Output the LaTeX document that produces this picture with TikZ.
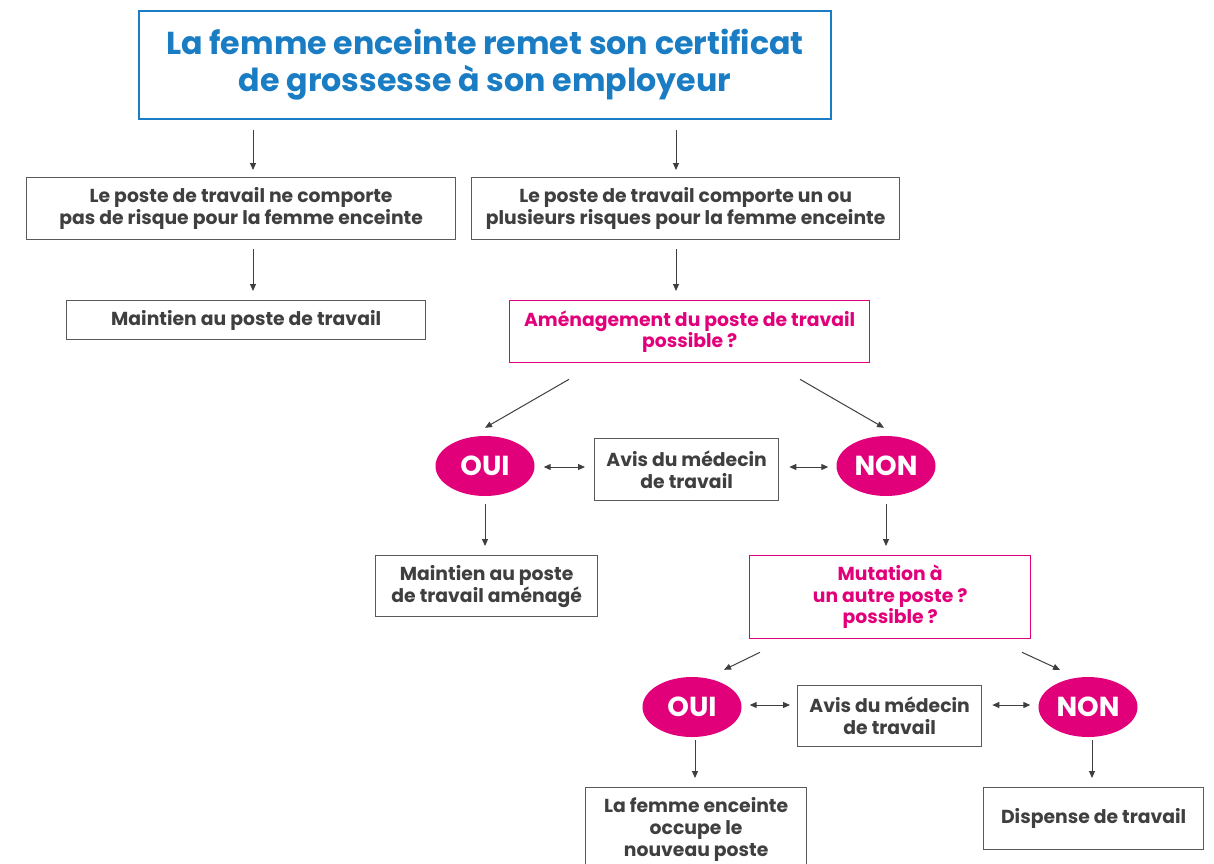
\documentclass[tikz,border=0pt]{standalone}
\usepackage{fontspec}
\setmainfont{Poppins}
\usetikzlibrary{arrows.meta,shapes.geometric,calc}
\definecolor{tblue}{HTML}{1A7DC4}
\definecolor{tpink}{HTML}{E2007A}
\definecolor{tgray}{HTML}{3F3F3F}
\definecolor{lgray}{HTML}{5A5A5A}
\begin{document}
\begin{tikzpicture}[x=1pt,y=-1pt,
  box/.style={draw=lgray,line width=1.3pt,text=tgray,font=\fontsize{18.8}{22}\selectfont\bfseries,align=center,inner sep=0pt,anchor=north west},
  qbox/.style={draw=tpink,line width=1.3pt,text=tpink,font=\fontsize{18.8}{21.5}\selectfont\bfseries,align=center,inner sep=0pt,anchor=north west},
  yn/.style={ellipse,fill=tpink,text=white,font=\fontsize{27.5}{30}\selectfont\bfseries,minimum width=99pt,minimum height=60pt,inner sep=0pt},
  arr/.style={draw=tgray,line width=1pt,-{Triangle[length=7pt,width=6pt]}},
  darr/.style={draw=tgray,line width=1pt,{Triangle[length=7pt,width=6pt]}-{Triangle[length=7pt,width=6pt]}}
]
\useasboundingbox (0,0) rectangle (1214,863);
\node[draw=tblue,line width=2pt,text=tblue,font=\fontsize{31.7}{37}\selectfont\bfseries,align=center,inner sep=0pt,minimum width=692pt,minimum height=108pt,anchor=north west] (title) at (138,10) {La femme enceinte remet son certificat\\de grossesse à son employeur};
\node[box,minimum width=429pt,minimum height=62pt] (l1) at (26,177) {Le poste de travail ne comporte\\pas de risque pour la femme enceinte};
\node[box,minimum width=428pt,minimum height=62pt] (r1) at (471,177) {Le poste de travail comporte un ou\\plusieurs risques pour la femme enceinte};
\node[box,minimum width=359pt,minimum height=39pt] (l2) at (66,300) {Maintien au poste de travail};
\node[qbox,minimum width=360pt,minimum height=62pt] (q1) at (509,300) {Aménagement du poste de travail\\possible ?};
\node[yn] (oui1) at (485,466) {OUI};
\node[box,minimum width=184pt,minimum height=62pt] (avis1) at (594,438) {Avis du médecin\\de travail};
\node[yn] (non1) at (886,466) {NON};
\node[box,minimum width=222pt,minimum height=61pt] (amen) at (375,555) {Maintien au poste\\de travail aménagé};
\node[qbox,minimum width=281pt,minimum height=83pt] (q2) at (749,555) {Mutation à\\un autre poste ?\\possible ?};
\node[yn] (oui2) at (692,707) {OUI};
\node[box,minimum width=184pt,minimum height=61pt] (avis2) at (797,685) {Avis du médecin\\de travail};
\node[yn] (non2) at (1088,707) {NON};
\node[box,minimum width=221pt,minimum height=84pt] (occ) at (585,787) {La femme enceinte\\occupe le\\nouveau poste};
\node[box,minimum width=220pt,minimum height=62pt] (disp) at (983,787) {Dispense de travail};

\draw[arr] ($(title.south west)+(115,10)$) -- ($(l1.north west)+(227,-7)$);
\draw[arr] ($(title.south west)+(538,10)$) -- ($(r1.north west)+(205,-7)$);
\draw[arr] ($(l1.south west)+(227,9)$) -- ($(l2.north west)+(187,-9)$);
\draw[arr] ($(r1.south west)+(205,9)$) -- ($(q1.north west)+(167,-9)$);
\draw[arr] ($(q1.south west)+(60,16)$) -- ($(oui1.north)+(0,-8)$);
\draw[arr] ($(q1.south west)+(291,16)$) -- ($(non1.north)+(-2,-8)$);
\draw[darr] ($(oui1.east)+(9,1)$) -- ($(avis1.west |- oui1.east)+(-9,1)$);
\draw[darr] ($(avis1.east |- non1.west)+(10,1)$) -- ($(non1.west)+(-8,1)$);
\draw[arr] ($(oui1.south)+(0,8)$) -- ($(amen.north west)+(110,-9)$);
\draw[arr] ($(non1.south)+(0,8)$) -- ($(q2.north west)+(137,-9)$);
\draw[arr] ($(q2.south west)+(11,13)$) -- ($(oui2.north)+(32,-7)$);
\draw[arr] ($(q2.south west)+(273,13)$) -- ($(non2.north)+(-28,-7)$);
\draw[darr] ($(oui2.east)+(8,-2)$) -- ($(avis2.west |- oui2.east)+(-7,-2)$);
\draw[darr] ($(avis2.east |- non2.west)+(10,-2)$) -- ($(non2.west)+(-8,-2)$);
\draw[arr] ($(oui2.south)+(3,3)$) -- ($(occ.north west)+(110,-9)$);
\draw[arr] ($(non2.south)+(4,3)$) -- ($(disp.north west)+(109,-9)$);
\end{tikzpicture}
\end{document}
